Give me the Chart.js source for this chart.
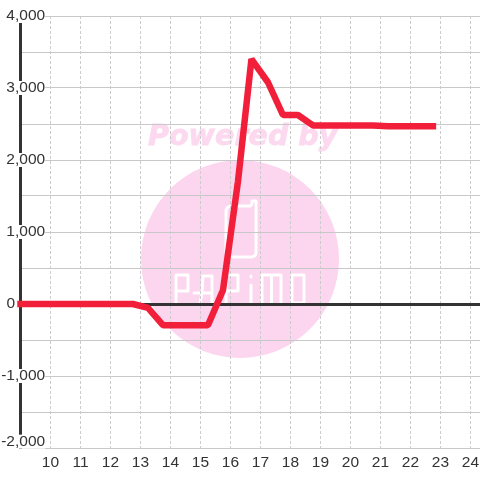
<!DOCTYPE html>
<html>
<head>
<meta charset="utf-8">
<style>
  html, body { margin: 0; padding: 0; background: #fff; }
  canvas { display: block; }
</style>
<script src="https://cdn.jsdelivr.net/npm/chart.js@4"></script>
</head>
<body>
<canvas id="chart" width="480" height="480"></canvas>
<script>
const hours = [9, 9.75, 10.25, 10.75, 11.25, 11.75, 12.25, 12.75, 13.25, 13.75, 14.25, 14.75, 15.25, 15.75, 16.25, 16.7, 17.25, 17.75, 18.25, 18.75, 19.25, 19.75, 20.25, 20.75, 21.25, 21.75, 22.25, 22.75];
const values = [0, 0, 0, 0, 0, 0, 0, 0, -55, -295, -295, -295, -295, 190, 1700, 3400, 3080, 2625, 2625, 2480, 2480, 2480, 2480, 2480, 2470, 2470, 2470, 2470];

const xTicks = [10, 11, 12, 13, 14, 15, 16, 17, 18, 19, 20, 21, 22, 23, 24];
const yTicks = [-2000, -1500, -1000, -500, 0, 500, 1000, 1500, 2000, 2500, 3000, 3500, 4000];
const yLabels = ['-2,000', '', '-1,000', '', '0', '', '1,000', '', '2,000', '', '3,000', '', '4,000'];

// the bottom label sits a little above its gridline, so it gets its own tick
const bottomLabelAt = -1912;

// the papimo mark sits behind everything
const watermark = {
  id: 'watermark',
  beforeDraw(chart) {
    const c = chart.ctx;
    c.save();
    c.fillStyle = '#fcd5ee';
    c.beginPath();
    c.arc(240, 259, 99, 0, Math.PI * 2);
    c.fill();

    c.fillStyle = '#fcd9ef';
    c.strokeStyle = '#fcd9ef';
    c.lineWidth = 0.8;
    c.font = 'italic bold 28.6px "DejaVu Sans"';
    c.textBaseline = 'alphabetic';
    c.fillText('Powered by', 148, 145);
    c.strokeText('Powered by', 148, 145);

    c.strokeStyle = '#fff';
    c.lineWidth = 3;
    c.lineJoin = 'round';
    c.lineCap = 'round';
    // phone
    c.beginPath();
    c.moveTo(256, 201);
    c.lineTo(256, 252);
    c.quadraticCurveTo(256, 257, 251, 257);
    c.lineTo(232, 257);
    c.quadraticCurveTo(226, 257, 226, 252);
    c.lineTo(226, 212);
    c.quadraticCurveTo(226, 206, 232, 206);
    c.lineTo(250, 206);
    c.quadraticCurveTo(252, 206, 252, 201);
    c.lineTo(256, 201);
    c.stroke();
    // letters
    c.beginPath();
    // P
    c.moveTo(176, 303); c.lineTo(176, 275); c.lineTo(188, 275); c.lineTo(188, 291); c.lineTo(176, 291);
    // A
    c.moveTo(200, 303); c.lineTo(202, 293); c.lineTo(203, 276); c.lineTo(212, 276); c.lineTo(212, 303);
    c.moveTo(194, 293); c.lineTo(212, 293);
    // P
    c.moveTo(226, 303); c.lineTo(226, 275); c.lineTo(238, 275); c.lineTo(238, 291); c.lineTo(226, 291);
    // i
    c.moveTo(251, 285); c.lineTo(251, 303);
    c.moveTo(251, 276); c.lineTo(251, 277);
    // M
    c.moveTo(262, 303); c.lineTo(262, 275); c.lineTo(281, 275); c.lineTo(281, 303);
    c.moveTo(271.5, 275); c.lineTo(271.5, 303);
    // O
    c.moveTo(292, 275); c.lineTo(304, 275); c.lineTo(304, 303); c.lineTo(292, 303); c.lineTo(292, 275);
    c.stroke();
    c.restore();
  }
};

new Chart(document.getElementById('chart').getContext('2d'), {
  type: 'line',
  data: {
    datasets: [{
      data: hours.map((h, i) => ({ x: h, y: values[i] })),
      borderColor: '#f21f3a',
      borderWidth: 6.5,
      borderCapStyle: 'square',
      borderJoinStyle: 'bevel',
      pointRadius: 0,
      tension: 0,
      clip: false
    }]
  },
  plugins: [watermark],
  options: {
    responsive: false,
    animation: false,
    layout: { padding: { top: 16, right: 0, left: 0, bottom: 0 } },
    plugins: { legend: { display: false }, tooltip: { enabled: false } },
    scales: {
      x: {
        type: 'linear',
        min: 9,
        max: 24.32,
        afterBuildTicks: axis => { axis.ticks = xTicks.map(v => ({ value: v })); },
        afterFit: axis => {
          axis.height = 32;
          // no room kept for half of the last label
          axis.paddingLeft = 0;
          axis.paddingRight = 0;
        },
        grid: { color: '#cccccc', lineWidth: 1, drawTicks: false, z: -1 },
        border: { display: false, dash: [3, 2] },
        ticks: {
          autoSkip: false,
          maxRotation: 0,
          padding: 5,
          color: '#333333',
          font: { family: '"Liberation Sans"', size: 15.5 }
        }
      },
      y: {
        min: -2000,
        max: 4000,
        afterBuildTicks: axis => {
          axis.ticks = yTicks.concat(bottomLabelAt).sort((a, b) => a - b).map(v => ({ value: v }));
        },
        afterFit: axis => { axis.width = 20.5; },
        grid: {
          color: ctx => {
            if (!ctx.tick) return '#c8c8c8';
            if (ctx.tick.value === bottomLabelAt) return 'transparent';
            return ctx.tick.value === 0 ? '#333333' : '#c8c8c8';
          },
          lineWidth: ctx => ctx.tick && ctx.tick.value === 0 ? 3 : 1,
          drawTicks: false,
          z: -1
        },
        border: { display: true, color: '#333333', width: 3, z: -1 },
        ticks: {
          // mirror stops the labels being clipped to the narrow axis box
          mirror: true,
          crossAlign: 'far',
          padding: -19.3,
          autoSkip: false,
          color: '#333333',
          font: { family: '"Liberation Sans"', size: 15.5, lineHeight: '14px' },
          callback: value => {
            if (value === bottomLabelAt) return yLabels[0];
            if (value === yTicks[0]) return '';
            const label = yLabels[yTicks.indexOf(value)];
            // 0 sits left of the axis
            return value === 0 ? label + '\u00a0\u00a0\u00a0\u00a0\u00a0\u00a0\u00a0' : label;
          },
          showLabelBackdrop: ctx => ctx.tick.value !== 0 && ctx.tick.value !== yTicks[0] &&
            (ctx.tick.value === bottomLabelAt || ctx.tick.value % 1000 === 0),
          backdropColor: '#ffffff',
          backdropPadding: ctx => ctx.tick && ctx.tick.value === bottomLabelAt
            ? { top: -1.3, bottom: 0.5, left: 1, right: 2 }
            : { top: -1, bottom: 1, left: 1, right: 2 }
        }
      }
    }
  }
});
</script>
</body>
</html>
